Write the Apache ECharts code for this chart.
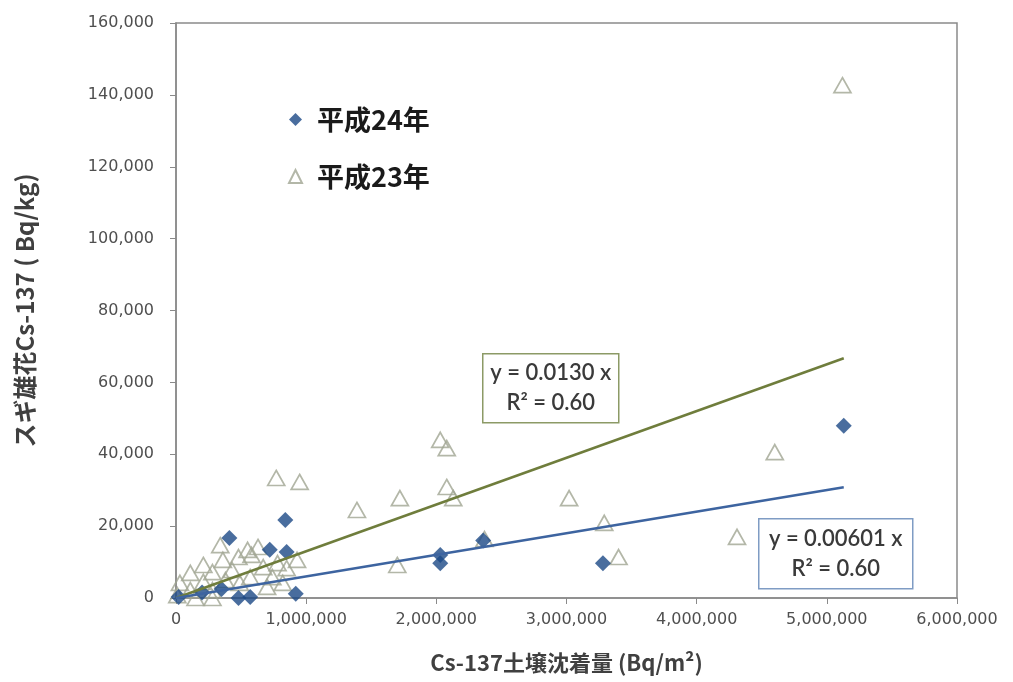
<!DOCTYPE html>
<html>
<head>
<meta charset="utf-8">
<script src="https://cdn.jsdelivr.net/npm/echarts@6/dist/echarts.min.js"></script>
<style>html,body{margin:0;padding:0;background:#fff;}#c{width:1013px;height:682px;}</style>
</head>
<body>
<div id="c"></div>
<script>
// Data
const seriesNames = ['平成24年', '平成23年'];
const h24 = [
  [5130000, 47900], [3280000, 9700], [2030000, 12000], [2030000, 9700],
  [2360000, 16000], [840000, 21700], [410000, 16700], [720000, 13400],
  [850000, 12800], [920000, 1200], [480000, 0], [570000, 300],
  [20000, 300], [200000, 1500], [350000, 2500]
];
const h23 = [
  [5120000, 142700], [4600000, 40600], [4310000, 17000], [3400000, 11400],
  [3290000, 20900], [3020000, 27800], [2370000, 16400], [2130000, 27800],
  [2080000, 30900], [2080000, 41700], [2030000, 44000], [1720000, 27800],
  [1700000, 9200], [1390000, 24500], [950000, 32300], [770000, 33400],
  [340000, 14700], [550000, 13400], [630000, 14200], [210000, 9200],
  [360000, 10600], [480000, 11400], [580000, 12000], [780000, 9700],
  [930000, 10600], [110000, 7000], [280000, 7200], [430000, 7800],
  [670000, 8600], [850000, 8300], [30000, 4200], [210000, 4500],
  [380000, 5000], [570000, 5800], [740000, 5800], [110000, 2200],
  [280000, 2200], [10000, 800], [150000, 0], [280000, 0],
  [700000, 3100], [490000, 4200], [820000, 4200]
];
const trend24 = [[0, 0], [5130000, 30800]];
const trend23 = [[0, 0], [5130000, 66700]];
const eq23 = ['y = 0.0130 x', 'R² = 0.60'];
const eq24 = ['y = 0.00601 x', 'R² = 0.60'];
const xTickStep = 1000000, xMax = 6000000;
const yTickStep = 20000, yMax = 160000;
const xName = 'Cs-137土壌沈着量 (Bq/m²)';
const yName = 'スギ雄花Cs-137 ( Bq/kg)';

const chart = echarts.init(document.getElementById('c'), null, {renderer: 'canvas'});
const fmt = v => Number(v).toLocaleString('en-US');
const axisGray = '#8a8a8a';
const labelStyle = {color: '#4f4f4f', fontFamily: 'DejaVu Sans', fontSize: 16};

function eqBox(x, y, w, h, lines, border) {
  return {
    type: 'group', left: x, top: y,
    children: [
      {type: 'rect', shape: {x: 0, y: 0, width: w, height: h},
       style: {fill: '#fff', stroke: border, lineWidth: 1.5}},
      {type: 'text', x: w / 2, y: h / 2,
       style: {text: lines.join('\n'), fill: '#3a3a3a', font: '600 22px Lato',
               align: 'center', verticalAlign: 'middle', lineHeight: 30}}
    ]
  };
}

chart.setOption({
  animation: false,
  backgroundColor: '#fff',
  grid: {left: 176, right: 56, top: 23, bottom: 84, show: true,
         borderColor: axisGray, borderWidth: 1.5, backgroundColor: 'transparent'},
  legend: {
    orient: 'vertical', left: 283, top: 101, itemGap: 30,
    itemWidth: 13, itemHeight: 13,
    data: seriesNames,
    textStyle: {fontFamily: 'Noto Sans CJK JP', fontWeight: 'bold', fontSize: 27, color: '#1a1a1a', padding: [0, 0, 0, 10]}
  },
  xAxis: {
    type: 'value', min: 0, max: xMax, interval: xTickStep,
    name: xName, nameLocation: 'middle', nameGap: 54,
    nameTextStyle: {fontFamily: 'Noto Sans CJK JP', fontWeight: 'bold', fontSize: 22, color: '#404040'},
    axisLine: {show: true, lineStyle: {color: axisGray, width: 1.5}},
    axisTick: {show: true, inside: false, length: 6, lineStyle: {color: axisGray}},
    axisLabel: Object.assign({formatter: fmt, margin: 14}, labelStyle),
    splitLine: {show: false}
  },
  yAxis: {
    type: 'value', min: 0, max: yMax, interval: yTickStep,
    name: yName, nameLocation: 'middle', nameGap: 139,
    nameTextStyle: {fontFamily: 'Noto Sans CJK JP', fontWeight: 'bold', fontSize: 24, color: '#404040'},
    axisLine: {show: true, lineStyle: {color: axisGray, width: 1.5}},
    axisTick: {show: true, inside: false, length: 6, lineStyle: {color: axisGray}},
    axisLabel: Object.assign({formatter: fmt, margin: 22}, labelStyle),
    splitLine: {show: false}
  },
  series: [
    {
      name: seriesNames[1], type: 'scatter', data: h23, z: 3,
      symbol: 'triangle', symbolSize: [17, 15],
      itemStyle: {color: 'rgba(255,255,255,0)', borderColor: '#a0a592', borderWidth: 1.7}
    },
    {
      name: seriesNames[0], type: 'scatter', data: h24, z: 4,
      symbol: 'diamond', symbolSize: 16,
      itemStyle: {color: '#1c4886'}
    },
    {
      type: 'line', data: trend23, symbol: 'none', z: 5, silent: true,
      lineStyle: {color: '#6f7d3c', width: 2.5}
    },
    {
      type: 'line', data: trend24, symbol: 'none', z: 5, silent: true,
      lineStyle: {color: '#3d64a0', width: 2.5}
    }
  ],
  graphic: [
    eqBox(482, 353, 136, 69, eq23, '#8c9a66'),
    eqBox(758, 518, 154, 70, eq24, '#7f9cc4')
  ]
});
</script>
</body>
</html>
